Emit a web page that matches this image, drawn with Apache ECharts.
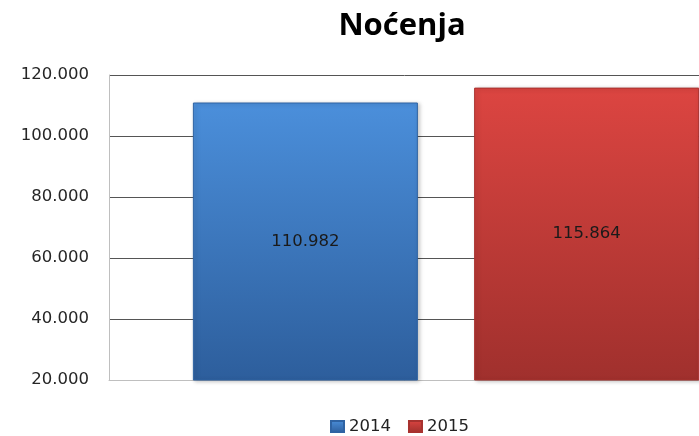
<!DOCTYPE html>
<html>
<head>
<meta charset="utf-8">
<script src="https://cdn.jsdelivr.net/npm/echarts@6/dist/echarts.min.js"></script>
<style>
  html, body { margin: 0; padding: 0; background: #fff; }
  #chart { width: 699px; height: 436px; }
</style>
</head>
<body>
<div id="chart"></div>
<script>
const categories = ['Noćenja']
const seriesNames = ['2014', '2015']
const values2014 = [110982]
const values2015 = [115864]
const yTicks = [20000, 40000, 60000, 80000, 100000, 120000]

function fmtDots(v) {
  return String(Math.round(v)).replace(/\B(?=(\d{3})+(?!\d))/g, '.')
}

function grad(top, bottom) {
  return new echarts.graphic.LinearGradient(0, 0, 0, 1, [
    { offset: 0, color: top },
    { offset: 1, color: bottom }
  ])
}

const blue = grad('#4b8fdb', '#2d5e9c')
const red = grad('#dc4541', '#a0302d')

const chart = echarts.init(document.getElementById('chart'))

const labelStyle = {
  show: true,
  position: 'inside',
  color: '#1a1a1a',
  fontFamily: 'DejaVu Sans',
  fontSize: 16.5,
  formatter: p => fmtDots(p.value)
}

chart.setOption({
  animation: false,
  title: {
    text: categories[0],
    left: 397,
    textAlign: 'center',
    top: 6,
    textStyle: { fontFamily: 'Open Sans', fontWeight: 'bold', fontSize: 31, color: '#000' }
  },
  legend: {
    data: seriesNames,
    top: 413,
    left: 325,
    itemWidth: 13,
    itemHeight: 11,
    itemGap: 17,
    icon: 'rect',
    textStyle: { fontFamily: 'DejaVu Sans', fontSize: 16.5, color: '#222' }
  },
  grid: {
    left: 109, width: 674, top: 75, height: 305,
    containLabel: false,
    outerBoundsMode: 'none'
  },
  xAxis: {
    type: 'category',
    data: categories,
    axisLine: { show: true, lineStyle: { color: '#bfbfbf' } },
    axisTick: { show: false },
    axisLabel: { show: false }
  },
  yAxis: {
    type: 'value',
    min: yTicks[0],
    max: yTicks[yTicks.length - 1],
    interval: yTicks[1] - yTicks[0],
    axisLine: { show: true, lineStyle: { color: '#bfbfbf' } },
    axisTick: { show: false },
    axisLabel: {
      margin: 20,
      fontFamily: 'DejaVu Sans',
      fontSize: 16.5,
      color: '#262626',
      formatter: v => fmtDots(v)
    },
    splitLine: { lineStyle: { color: '#555555', width: 1 } }
  },
  series: [
    {
      name: seriesNames[0],
      type: 'bar',
      data: values2014,
      barWidth: 225,
      barGap: '25%',
      itemStyle: {
        color: blue,
        borderColor: '#2f63a3',
        borderWidth: 1,
        shadowColor: 'rgba(0,0,0,0.25)',
        shadowBlur: 4,
        shadowOffsetX: 2,
        shadowOffsetY: 1
      },
      label: labelStyle
    },
    {
      name: seriesNames[1],
      type: 'bar',
      data: values2015,
      barWidth: 225,
      itemStyle: {
        color: red,
        borderColor: '#a8322f',
        borderWidth: 1,
        shadowColor: 'rgba(0,0,0,0.25)',
        shadowBlur: 4,
        shadowOffsetX: 2,
        shadowOffsetY: 1
      },
      label: labelStyle
    }
  ]
})
</script>
</body>
</html>
